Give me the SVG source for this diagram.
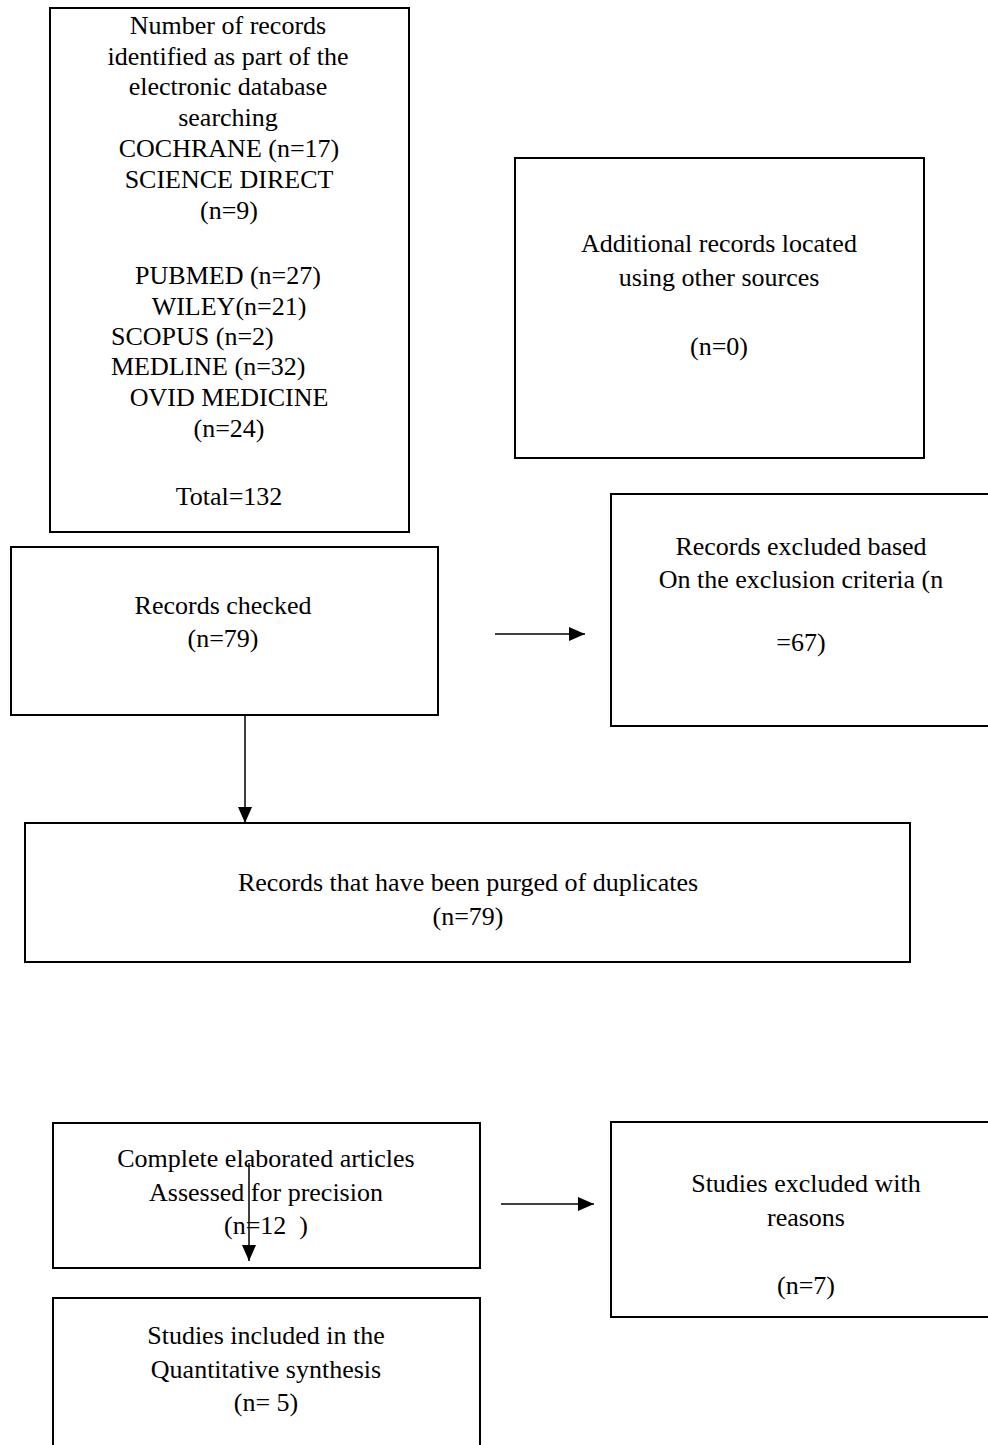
<svg xmlns="http://www.w3.org/2000/svg" width="988" height="1445" viewBox="0 0 988 1445">
<style>
.box{fill:#fff;stroke:#000;stroke-width:2}
text{font-family:'Liberation Serif','Tinos','Times New Roman','DejaVu Serif',serif;font-size:26px;fill:#000;text-anchor:middle}
.t1{font-size:26px}
.l{text-anchor:start}
.c{stroke:#000;stroke-width:1.5;fill:none}
</style>
<defs>
<marker id="ah" markerUnits="userSpaceOnUse" markerWidth="16" markerHeight="14" refX="16" refY="7" orient="auto">
<path d="M0,0 L16,7 L0,14 Z" fill="#000"/>
</marker>
</defs>
<rect width="988" height="1445" fill="#fff"/>
<g id="n-identified">
<rect class="box" x="50" y="8" width="359" height="524"/>
<text class="t1" x="228" y="34">Number of records</text>
<text class="t1" x="228" y="65">identified as part of the</text>
<text class="t1" x="228" y="95">electronic database</text>
<text class="t1" x="228" y="126">searching</text>
<text class="t1" x="229" y="157">COCHRANE (n=17)</text>
<text class="t1" x="229" y="188">SCIENCE DIRECT</text>
<text class="t1" x="229" y="219">(n=9)</text>
<text class="t1" x="228" y="284">PUBMED (n=27)</text>
<text class="t1" x="229" y="315">WILEY(n=21)</text>
<text class="t1 l" x="111" y="345">SCOPUS (n=2)</text>
<text class="t1 l" x="111" y="375">MEDLINE (n=32)</text>
<text class="t1" x="229" y="406">OVID MEDICINE</text>
<text class="t1" x="229" y="437">(n=24)</text>
<text class="t1" x="229" y="505">Total=132</text>
</g>
<g id="n-additional">
<rect class="box" x="515" y="158" width="409" height="300"/>
<text x="719" y="252">Additional records located</text>
<text x="719" y="286">using other sources</text>
<text x="719" y="355">(n=0)</text>
</g>
<g id="n-checked">
<rect class="box" x="11" y="547" width="427" height="168"/>
<text x="223" y="614">Records checked</text>
<text x="223" y="647">(n=79)</text>
</g>
<g id="n-excluded">
<rect class="box" x="611" y="494" width="400" height="232"/>
<text x="801" y="555">Records excluded based</text>
<text x="801" y="588">On the exclusion criteria (n</text>
<text x="801" y="651">=67)</text>
</g>
<g id="n-purged">
<rect class="box" x="25" y="823" width="885" height="139"/>
<text x="468" y="891">Records that have been purged of duplicates</text>
<text x="468" y="925">(n=79)</text>
</g>
<g id="n-fulltext">
<rect class="box" x="53" y="1123" width="427" height="145"/>
<text x="266" y="1167">Complete elaborated articles</text>
<text x="266" y="1201">Assessed for precision</text>
<text x="266" y="1234" xml:space="preserve">(n=12  )</text>
</g>
<g id="n-studies-excluded">
<rect class="box" x="611" y="1122" width="400" height="195"/>
<text x="806" y="1192">Studies excluded with</text>
<text x="806" y="1226">reasons</text>
<text x="806" y="1294">(n=7)</text>
</g>
<g id="n-included">
<rect class="box" x="53" y="1298" width="427" height="160"/>
<text x="266" y="1344">Studies included in the</text>
<text x="266" y="1378">Quantitative synthesis</text>
<text x="266" y="1411">(n= 5)</text>
</g>
<g id="connectors">
<line class="c" x1="245" y1="716" x2="245" y2="823" marker-end="url(#ah)"/>
<line class="c" x1="495" y1="634" x2="585" y2="634" marker-end="url(#ah)"/>
<line class="c" x1="501" y1="1204" x2="594" y2="1204" marker-end="url(#ah)"/>
<line class="c" x1="249" y1="1163" x2="249" y2="1261" marker-end="url(#ah)"/>
</g>
</svg>
